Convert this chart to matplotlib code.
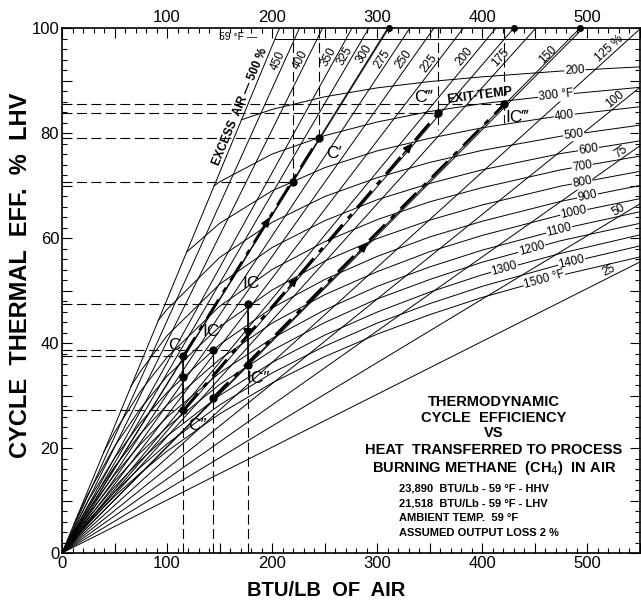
import numpy as np
import matplotlib
matplotlib.use("Agg")
import matplotlib.pyplot as plt
from matplotlib.ticker import MultipleLocator, FuncFormatter

plt.rcParams['font.family'] = ['Liberation Sans', 'DejaVu Sans']

# ---------------- data ----------------
# Excess-air lines: straight lines through the origin; BTU/lb where each reaches 100 %
ea_pct = [500, 450, 400, 350, 325, 300, 275, 250, 225, 200, 175, 150, 125, 100, 75, 50, 25]
ea_top_x = [207, 226, 248, 276, 292, 310, 331, 354, 382, 413, 451, 496, 551, 620, 709, 827, 992]

# Exit-temperature curves: efficiency (%) at these BTU/lb values
curve_x = [25, 50, 75, 100, 150, 200, 250, 300, 350, 400, 475, 550]
exit_temp = [200, 300, 400, 500, 600, 700, 800, 900, 1000, 1100, 1200, 1300, 1400, 1500]
exit_start_x = [170.5, 144.5, 118.5, 91.5, 65.5, 39.5, 11.5, 0, 0, 0, 0, 0, 0, 0]
exit_start_y = [82.5, 69.9, 57.3, 44.3, 31.7, 19.1, 5.6, 0, 0, 0, 0, 0, 0, 0]
N = None
exit_eff = [
    [N, N, N, N, N, 84.5, 86.9, 88.6, 89.8, 90.7, 91.8, 92.6],
    [N, N, N, N, 70.7, 76.0, 79.5, 82.1, 84.1, 85.6, 87.3, 88.7],
    [N, N, N, N, 62.8, 69.0, 73.4, 76.6, 79.0, 81.0, 83.3, 85.0],
    [N, N, N, 46.4, 56.3, 63.0, 67.9, 71.5, 74.4, 76.7, 79.4, 81.5],
    [N, N, 34.7, 41.4, 51.2, 58.2, 63.3, 67.3, 70.4, 73.0, 76.1, 78.5],
    [N, 23.0, 30.9, 37.3, 47.0, 54.0, 59.3, 63.5, 66.9, 69.6, 73.0, 75.6],
    [11.3, 20.3, 27.6, 33.7, 43.1, 50.1, 55.6, 59.9, 63.4, 66.3, 69.9, 72.7],
    [10.0, 18.1, 24.9, 30.6, 39.7, 46.7, 52.1, 56.5, 60.2, 63.2, 67.0, 70.0],
    [9.0, 16.4, 22.8, 28.2, 36.9, 43.8, 49.2, 53.6, 57.4, 60.5, 64.4, 67.5],
    [8.1, 14.9, 20.8, 25.9, 34.3, 40.9, 46.3, 50.8, 54.5, 57.7, 61.7, 65.0],
    [7.4, 13.7, 19.2, 24.0, 32.1, 38.6, 43.9, 48.4, 52.1, 55.4, 59.5, 62.8],
    [6.7, 12.6, 17.7, 22.3, 30.0, 36.3, 41.5, 45.9, 49.7, 53.0, 57.1, 60.6],
    [6.2, 11.6, 16.4, 20.8, 28.2, 34.3, 39.4, 43.8, 47.5, 50.8, 55.0, 58.5],
    [5.7, 10.8, 15.3, 19.4, 26.5, 32.4, 37.4, 41.7, 45.4, 48.7, 52.9, 56.4],
]
ambient_x = [202.5, 550]
ambient_y = [98, 98]

# Process state points
pt_names = ["C", "C″", "C′", "C‴", "IC", "IC′", "IC″", "IC‴"]
pt_x = [115.6, 115.6, 244.5, 358, 176.6, 143.5, 176.6, 421]
pt_y = [37.5, 27.2, 79.0, 83.8, 47.4, 38.7, 35.8, 85.5]
extra_x = [115.6, 143.5, 220]
extra_y = [33.5, 29.5, 70.7]
top_dot_x = [311, 430, 493]

# ---------------- figure ----------------
fig = plt.figure(figsize=(6.41, 6.01), dpi=100)
ax = fig.add_axes([62/641, 48/601, 578/641, 525/601])
ax.set_xlim(0, 550)
ax.set_ylim(0, 100)

LW = 0.7
K = 'black'

# excess air lines
for tx in ea_top_x:
    ax.plot([0, tx], [0, 100], color=K, lw=LW, zorder=2)

# process lines through origin to top dots
for tx in top_dot_x:
    ax.plot([0, tx], [0, 100], color=K, lw=LW, zorder=2)
ax.plot(top_dot_x, [100]*3, 'o', color=K, ms=4, clip_on=False, zorder=6)

# exit-temperature curves
curves = []
for sx, sy, effs in zip(exit_start_x, exit_start_y, exit_eff):
    xs = [sx] + [x for x, e in zip(curve_x, effs) if e is not None and x > sx]
    ys = [sy] + [e for x, e in zip(curve_x, effs) if e is not None and x > sx]
    ax.plot(xs, ys, color=K, lw=LW, zorder=2)
    curves.append((np.array(xs), np.array(ys)))
ax.plot(ambient_x, ambient_y, color=K, lw=LW, zorder=2)

# dashed reference lines
dash = dict(color=K, lw=0.8, dashes=(9, 4), zorder=3)
P = dict(zip(pt_names, zip(pt_x, pt_y)))
h_end = {"IC‴": 421, "C‴": 358, "C′": 244.5, "IC": 192, "IC′": 158, "C": 115.6, "C″": 115.6}
for nm, xe in h_end.items():
    ax.plot([0, xe], [P[nm][1]]*2, **dash)
ax.plot([0, extra_x[2]], [extra_y[2]]*2, **dash)
for nm in ["C", "IC′", "IC"]:
    ax.plot([P[nm][0]]*2, [0, P[nm][1]], **dash)
ax.plot([extra_x[2]]*2, [100, extra_y[2]], **dash)
ax.plot([P["C′"][0]]*2, [100, P["C′"][1]], **dash)
ax.plot([P["C‴"][0]]*2, [100, 80.6], **dash)
ax.plot([P["IC‴"][0]]*2, [100, 82.0], **dash)

# thick process paths
thick = dict(color=K, lw=2.0, dashes=(8, 3, 2, 3), zorder=4)
ax.plot([P["C"][0], P["C′"][0]], [P["C"][1], P["C′"][1]], **thick)
ax.plot([P["C″"][0], P["C‴"][0]], [P["C″"][1], P["C‴"][1]], **thick)
ax.plot([extra_x[1], P["IC‴"][0]], [extra_y[1], P["IC‴"][1]], **thick)
ax.plot([P["C"][0]]*2, [P["C"][1], P["C″"][1]], color=K, lw=1.2, zorder=4)
ax.plot([P["IC"][0]]*2, [P["IC"][1], P["IC″"][1]], color=K, lw=1.2, zorder=4)
ax.plot([P["IC′"][0]]*2, [P["IC′"][1], extra_y[1]], color=K, lw=0.8, dashes=(6, 3), zorder=4)

def arrow_on(p0, p1, frac):
    x = p0[0] + (p1[0]-p0[0])*frac
    y = p0[1] + (p1[1]-p0[1])*frac
    dx = (p1[0]-p0[0])*0.02
    dy = (p1[1]-p0[1])*0.02
    ax.annotate('', xy=(x+dx, y+dy), xytext=(x-dx, y-dy),
                arrowprops=dict(arrowstyle='-|>,head_length=0.6,head_width=0.25',
                                color=K, lw=1.0, shrinkA=0, shrinkB=0), zorder=5)

arrow_on(P["C"], P["C′"], 0.62)
arrow_on(P["C″"], P["C‴"], 0.43)
arrow_on(P["C″"], P["C‴"], 0.88)
arrow_on(P["IC″"], P["IC‴"], 0.45)
arrow_on(P["IC"], P["IC″"], 0.55)

# points
ax.plot(pt_x, pt_y, 'o', color=K, ms=5, zorder=6)
ax.plot(extra_x, extra_y, 'o', color=K, ms=5, zorder=6)

# point labels
lab_off = {"C": (-9, 2), "C″": (13, -3), "C′": (14, -3), "C‴": (-14, 3),
           "IC": (3, 4), "IC′": (0, 3.5), "IC″": (10, -2.5), "IC‴": (12, -2.6)}
for nm in pt_names:
    x, y = P[nm]
    dx, dy = lab_off[nm]
    ax.text(x+dx, y+dy, nm, fontsize=12.5, ha='center', va='center', zorder=7,
            color=K)

# excess-air labels
ea_text = ["EXCESS  AIR — 500 %"] + [str(v) for v in ea_pct[1:]]
ea_text[12] = "125 %"
ea_label_y = [84.5, 93.3, 93.5, 93.9, 94.0, 94.5, 93.5, 93.3, 92.6, 93.9, 93.5, 94.0, 95.2,
              85.5, 75.5, 64.4, 52.7]
for txt, tx, ly in zip(ea_text, ea_top_x, ea_label_y):
    p0 = ax.transData.transform((0, 0))
    p1 = ax.transData.transform((tx, 100))
    ang = np.degrees(np.arctan2(p1[1]-p0[1], p1[0]-p0[0]))
    d = 4.5
    off = (-np.sin(np.radians(ang))*d, np.cos(np.radians(ang))*d)
    ax.annotate(txt, xy=(ly*tx/100, ly), xytext=off, textcoords='offset points',
                rotation=ang, rotation_mode='anchor', ha='center', va='center',
                fontsize=8.5,
                fontweight='bold' if txt.startswith("EX") else 'normal', zorder=7)

# exit-temperature labels
exit_text = [str(t) for t in exit_temp]
exit_text[1] = "300 °F"
exit_text[-1] = "1500 °F"
exit_label_x = [488, 470, 478, 487, 501, 495, 495, 500, 487, 473, 447, 421, 485, 459]
for txt, lx, (cx, cy) in zip(exit_text, exit_label_x, curves):
    ly = np.interp(lx, cx, cy)
    pa = ax.transData.transform((lx-10, np.interp(lx-10, cx, cy)))
    pb = ax.transData.transform((lx+10, np.interp(lx+10, cx, cy)))
    ang = np.degrees(np.arctan2(pb[1]-pa[1], pb[0]-pa[0]))
    ax.text(lx, ly, txt, rotation=ang, rotation_mode='anchor', ha='center', va='center',
            fontsize=8.5, zorder=7,
            bbox=dict(boxstyle='square,pad=0.05', fc='white', ec='none'))
cx, cy = curves[1]
pa = ax.transData.transform((380, np.interp(380, cx, cy)))
pb = ax.transData.transform((420, np.interp(420, cx, cy)))
ang = np.degrees(np.arctan2(pb[1]-pa[1], pb[0]-pa[0]))
ax.text(398, np.interp(398, cx, cy)+0.4, "EXIT-TEMP", rotation=ang, rotation_mode='anchor',
        ha='center', va='bottom', fontsize=9, fontweight='bold', zorder=7)
ax.text(186, 98.3, "59 °F —", ha='right', va='center', fontsize=7.5, zorder=7)

# title block
tx0 = 411
title_lines = ["THERMODYNAMIC", "CYCLE  EFFICIENCY", "VS",
               "HEAT  TRANSFERRED TO PROCESS", "BURNING METHANE  (CH$_4$)  IN AIR"]
title_y = [28.8, 25.7, 22.8, 19.6, 16.2]
for t, y in zip(title_lines, title_y):
    ax.text(tx0, y, t, ha='center', va='center', fontsize=10.5, fontweight='bold', zorder=7)
info_lines = ["23,890  BTU/Lb - 59 °F - HHV", "21,518  BTU/Lb - 59 °F - LHV",
              "AMBIENT TEMP.  59 °F", "ASSUMED OUTPUT LOSS 2 %"]
info_y = [12.2, 9.5, 6.6, 3.8]
for t, y in zip(info_lines, info_y):
    ax.text(321, y, t, ha='left', va='center', fontsize=8, fontweight='bold', zorder=7)

# axes / ticks
for s in ax.spines.values():
    s.set_linewidth(1.2)
ax.xaxis.set_major_locator(MultipleLocator(50))
ax.xaxis.set_minor_locator(MultipleLocator(10))
ax.yaxis.set_major_locator(MultipleLocator(10))
ax.yaxis.set_minor_locator(MultipleLocator(2))
ax.xaxis.set_major_formatter(FuncFormatter(lambda v, p: f"{int(v)}" if v % 100 == 0 else ""))
ax.yaxis.set_major_formatter(FuncFormatter(lambda v, p: f"{int(v)}" if v % 20 == 0 else ""))
ax.tick_params(which='both', direction='in', top=True, right=True, labeltop=True,
               labelsize=12, width=0.8, pad=2)
ax.tick_params(which='major', length=7)
ax.tick_params(which='minor', length=3.5)
fig.canvas.draw()
for tk in ax.xaxis.get_major_ticks():
    if abs(tk.get_loc()) < 1e-9:
        tk.label2.set_visible(False)

fig.text(326/641, 1-590/601, "BTU/LB  OF  AIR", ha='center', va='center',
         fontsize=14.5, fontweight='bold')
fig.text(21/641, 1-275/601, "CYCLE  THERMAL  EFF.  %  LHV", ha='center', va='center',
         rotation=90, fontsize=17, fontweight='bold')

fig.savefig("out.png", dpi=100)
